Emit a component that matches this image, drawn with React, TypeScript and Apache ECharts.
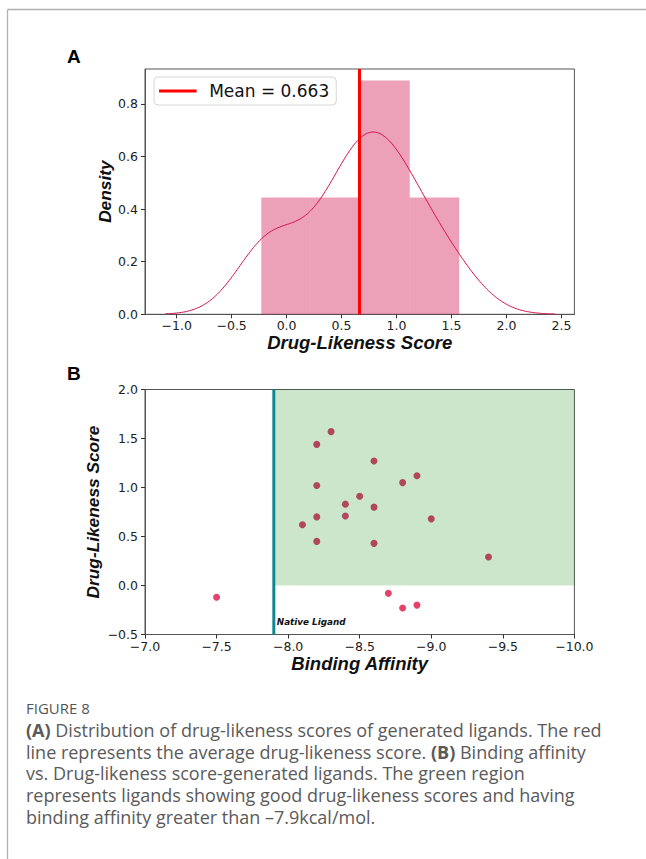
import React, { useEffect, useRef } from "react";
import * as echarts from "echarts";

// Docked ligands: binding affinity (kcal/mol) and drug-likeness score
const bindingAffinity = [-7.5, -8.1, -8.2, -8.2, -8.2, -8.2, -8.3, -8.4, -8.4, -8.5, -8.6, -8.6, -8.6, -8.7, -8.8, -8.8, -8.9, -8.9, -9.0, -9.4];
const drugLikeness = [-0.12, 0.62, 1.44, 1.02, 0.7, 0.45, 1.57, 0.83, 0.71, 0.91, 1.27, 0.8, 0.43, -0.08, 1.05, -0.23, 1.12, -0.2, 0.68, 0.29];

// Histogram of drug-likeness scores (density)
const histEdges = [-0.23, 0.22, 0.67, 1.12, 1.57];
const histDensity = [0.444, 0.444, 0.889, 0.444];

const nativeLigandAffinity = -7.9;

// Axis ranges and ticks
const xRangeA = [-1.288, 2.618];
const yRangeA = [0, 0.933];
const xTicksA = [-1.0, -0.5, 0.0, 0.5, 1.0, 1.5, 2.0, 2.5];
const yTicksA = [0.0, 0.2, 0.4, 0.6, 0.8];
const xRangeB = [-10, -7];
const yRangeB = [-0.5, 2.0];

const captionLines = [
  "{b|(A)} Distribution of drug-likeness scores of generated ligands. The red",
  "line represents the average drug-likeness score. {b|(B)} Binding affinity",
  "vs. Drug-likeness score-generated ligands. The green region",
  "represents ligands showing good drug-likeness scores and having",
  "binding affinity greater than \u20137.9kcal/mol.",
];

const fmt = (v: number) => (v < 0 ? "\u2212" : "") + Math.abs(v).toFixed(1);

// Gaussian kernel density estimate (Scott's rule) of the scores
function kde(values: number[], steps: number): number[][] {
  const n = values.length;
  const mean = values.reduce((a, b) => a + b, 0) / n;
  const sd = Math.sqrt(values.reduce((a, b) => a + (b - mean) ** 2, 0) / (n - 1));
  const bw = sd * Math.pow(n, -1 / 5);
  const lo = Math.min(...values) - 3 * bw;
  const hi = Math.max(...values) + 3 * bw;
  const out: number[][] = [];
  for (let i = 0; i < steps; i++) {
    const x = lo + ((hi - lo) * i) / (steps - 1);
    let s = 0;
    for (const v of values) s += Math.exp(-0.5 * ((x - v) / bw) ** 2);
    out.push([x, s / (n * bw * Math.sqrt(2 * Math.PI))]);
  }
  return out;
}

const PINK = "#d2144e";
const DOT_OUT = "#dc1446";
const DOT_IN = "#a91f40";
const TICK_FONT = { fontFamily: "DejaVu Sans", fontSize: 12.5, color: "#222" };
const NAME_FONT = { fontFamily: "Liberation Sans", fontStyle: "italic" as const, fontWeight: "bold" as const, fontSize: 18.5, color: "#111" };
const SPINE = "#555";
const CAPTION_FONT = "18px 'Open Sans'";
const CAPTION_COLOR = "#5a5a5a";

export default function App() {
  const ref = useRef<HTMLDivElement>(null);

  useEffect(() => {
    if (!ref.current) return;
    const chart = echarts.init(ref.current, undefined, { renderer: "svg" });
    const meanScore = drugLikeness.reduce((a, b) => a + b, 0) / drugLikeness.length;
    const meanLabel = `Mean = ${meanScore.toFixed(3)}`;
    const histData = histDensity.map((d, i) => [histEdges[i], histEdges[i + 1], d]);

    const axisCommon = {
      axisLine: { show: true, onZero: false, lineStyle: { color: SPINE, width: 1 } },
      axisTick: { show: true, inside: false, length: 4, lineStyle: { color: "#333", width: 1 } },
      splitLine: { show: false },
    };

    const captionText = captionLines.map((line, i) => ({
      type: "text",
      left: 26,
      top: 721 + i * 21.7,
      style: {
        text: line,
        font: CAPTION_FONT,
        fill: CAPTION_COLOR,
        rich: { b: { fontFamily: "Open Sans", fontSize: 18, fontWeight: "bold", fill: CAPTION_COLOR } },
      },
    }));

    chart.setOption({
      animation: false,
      backgroundColor: "#fff",
      grid: [
        { left: 145, top: 69, width: 429.4, height: 245.3, show: true, borderColor: SPINE, borderWidth: 1 },
        { left: 145, top: 389.5, width: 429.4, height: 245, show: true, borderColor: SPINE, borderWidth: 1 },
      ],
      xAxis: [
        {
          ...axisCommon,
          type: "value", gridIndex: 0, min: xRangeA[0], max: xRangeA[1],
          axisTick: { ...axisCommon.axisTick, customValues: xTicksA },
          axisLabel: { ...TICK_FONT, margin: 5, customValues: xTicksA, formatter: fmt },
          name: "Drug-Likeness Score", nameLocation: "middle", nameGap: 19, nameTextStyle: NAME_FONT,
        },
        {
          ...axisCommon,
          type: "value", gridIndex: 1, min: xRangeB[0], max: xRangeB[1], interval: 0.5, inverse: true,
          axisLabel: { ...TICK_FONT, margin: 5, formatter: fmt },
          name: "Binding Affinity", nameLocation: "middle", nameGap: 19, nameTextStyle: NAME_FONT,
        },
      ],
      yAxis: [
        {
          ...axisCommon,
          type: "value", gridIndex: 0, min: yRangeA[0], max: yRangeA[1],
          axisTick: { ...axisCommon.axisTick, customValues: yTicksA },
          axisLabel: { ...TICK_FONT, margin: 7, customValues: yTicksA, formatter: fmt },
          name: "Density", nameLocation: "middle", nameGap: 32, nameMoveOverlap: false,
          nameTextStyle: { ...NAME_FONT, fontSize: 17.3 },
        },
        {
          ...axisCommon,
          type: "value", gridIndex: 1, min: yRangeB[0], max: yRangeB[1], interval: 0.5,
          axisLabel: { ...TICK_FONT, margin: 7, formatter: fmt },
          name: "Drug-Likeness Score", nameLocation: "middle", nameGap: 44, nameMoveOverlap: false,
          nameTextStyle: { ...NAME_FONT, fontSize: 17.3 },
        },
      ],
      legend: {
        data: [meanLabel],
        left: 154, top: 77,
        padding: [4, 7, 4, 5],
        icon: "rect", itemWidth: 37.6, itemHeight: 3,
        borderColor: "#d6d6d6", borderWidth: 1, borderRadius: 4,
        backgroundColor: "rgba(255,255,255,0.8)",
        textStyle: { fontFamily: "DejaVu Sans", fontSize: 17, color: "#111", lineHeight: 20, padding: [0, 0, 0, 7.6] },
      },
      series: [
        {
          type: "custom", name: "hist", xAxisIndex: 0, yAxisIndex: 0, z: 1,
          encode: { x: [0, 1], y: 2 },
          data: histData,
          renderItem: (_p: any, api: any) => {
            const a = api.coord([api.value(0), api.value(2)]);
            const b = api.coord([api.value(1), 0]);
            return { type: "rect", shape: { x: a[0], y: a[1], width: b[0] - a[0], height: b[1] - a[1] }, style: { fill: "rgba(210,20,78,0.4)" } };
          },
        },
        {
          type: "line", name: "kde", xAxisIndex: 0, yAxisIndex: 0, z: 3,
          data: kde(drugLikeness, 240), symbol: "none",
          lineStyle: { color: PINK, width: 1 },
        },
        {
          type: "line", name: meanLabel, xAxisIndex: 0, yAxisIndex: 0, z: 4,
          data: [[meanScore, yRangeA[0]], [meanScore, yRangeA[1]]], symbol: "none",
          itemStyle: { color: "#ff0000" },
          lineStyle: { color: "#ff0000", width: 3 },
        },
        {
          type: "line", name: "region", xAxisIndex: 1, yAxisIndex: 1, z: 1, data: [],
          markArea: {
            silent: true,
            itemStyle: { color: "rgba(0,128,0,0.2)" },
            data: [[{ coord: [nativeLigandAffinity, 0] }, { coord: [xRangeB[0], yRangeB[1]] }]],
          },
        },
        {
          type: "scatter", name: "ligands", xAxisIndex: 1, yAxisIndex: 1, z: 3,
          data: bindingAffinity.map((x, i) => [x, drugLikeness[i]]),
          symbolSize: 7,
          itemStyle: {
            // points inside the shaded region sit under its green tint
            color: (p: any) => (p.value[0] <= nativeLigandAffinity && p.value[1] >= 0 ? DOT_IN : DOT_OUT),
          },
        },
        {
          type: "line", name: "native", xAxisIndex: 1, yAxisIndex: 1, z: 4,
          data: [[nativeLigandAffinity, yRangeB[0]], [nativeLigandAffinity, yRangeB[1]]], symbol: "none",
          lineStyle: { color: "#138592", width: 3 },
          markPoint: {
            symbol: "circle", symbolSize: 0,
            data: [{
              coord: [nativeLigandAffinity, -0.375],
              label: {
                show: true, position: "right", distance: 3, formatter: "Native Ligand",
                fontFamily: "DejaVu Sans", fontStyle: "italic", fontWeight: "bold", fontSize: 8.8, color: "#111",
              },
            }],
          },
        },
      ],
      graphic: [
        { type: "line", shape: { x1: 7.5, y1: 9.5, x2: 646, y2: 9.5 }, style: { stroke: "#b0b0b0", lineWidth: 1.3 } },
        { type: "line", shape: { x1: 7.5, y1: 9.5, x2: 7.5, y2: 859 }, style: { stroke: "#b0b0b0", lineWidth: 1.3 } },
        { type: "text", left: 67, top: 47, style: { text: "A", font: "bold 19px 'Liberation Sans'", fill: "#000" } },
        { type: "text", left: 67, top: 364, style: { text: "B", font: "bold 19px 'Liberation Sans'", fill: "#000" } },
        { type: "text", left: 26, top: 700, style: { text: "FIGURE 8", font: "15px 'Open Sans'", fill: "#555" } },
        ...captionText,
      ],
    });
    return () => chart.dispose();
  }, []);

  return <div ref={ref} style={{ position: "absolute", left: 0, top: 0, width: 646, height: 859 }} />;
}
